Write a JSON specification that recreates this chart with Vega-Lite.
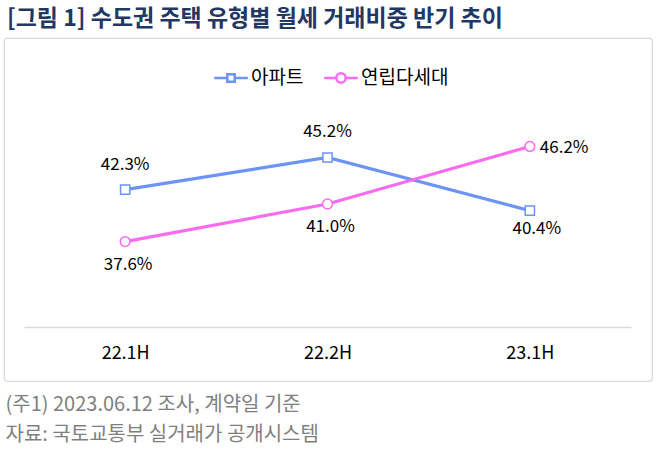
{
  "$schema": "https://vega.github.io/schema/vega-lite/v6.json",
  "width": 648,
  "height": 343,
  "autosize": "none",
  "padding": {"left": 4, "top": 38, "right": 6, "bottom": 85},
  "background": "white",
  "config": {
    "font": "Noto Sans CJK KR",
    "view": {"stroke": "#d9d9d9", "strokeWidth": 1.2, "cornerRadius": 3}
  },
  "title": {
    "text": "[그림 1] 수도권 주택 유형별 월세 거래비중 반기 추이",
    "anchor": "start",
    "frame": "group",
    "fontSize": 23,
    "fontWeight": "bold",
    "color": "#1f3864",
    "baseline": "alphabetic",
    "offset": 12,
    "dx": 3,
    "dy": 23
  },
  "data": {
    "values": [
      {"period": "22.1H", "type": "아파트", "value": 42.3},
      {"period": "22.2H", "type": "아파트", "value": 45.2},
      {"period": "23.1H", "type": "아파트", "value": 40.4},
      {"period": "22.1H", "type": "연립다세대", "value": 37.6},
      {"period": "22.2H", "type": "연립다세대", "value": 41.0},
      {"period": "23.1H", "type": "연립다세대", "value": 46.2}
    ]
  },
  "encoding": {
    "x": {
      "field": "period",
      "type": "ordinal",
      "scale": {"type": "point", "range": [20, 627], "padding": 0.5},
      "axis": {
        "title": ["(주1) 2023.06.12 조사, 계약일 기준", "자료: 국토교통부 실거래가 공개시스템"],
        "titleX": 1,
        "titleY": 83,
        "titleAlign": "left",
        "titleAnchor": null,
        "titleBaseline": "alphabetic",
        "titleFontSize": 20,
        "titleFontWeight": "normal",
        "titleColor": "#7f7f7f",
        "titleLineHeight": 30,
        "offset": -54,
        "domainColor": "#d9d9d9",
        "domainWidth": 1.5,
        "ticks": false,
        "grid": false,
        "labelAngle": 0,
        "labelFontSize": 18,
        "labelColor": "#000000",
        "labelPadding": 17
      }
    },
    "y": {
      "field": "value",
      "type": "quantitative",
      "scale": {"domain": [25, 56], "nice": false, "zero": false},
      "axis": null
    }
  },
  "layer": [
    {
      "mark": {"type": "line", "strokeWidth": 3.2},
      "encoding": {
        "color": {
          "field": "type",
          "type": "nominal",
          "scale": {"domain": ["아파트", "연립다세대"], "range": ["#6c94f4", "#f96cf0"]},
          "legend": {
            "orient": "none",
            "direction": "horizontal",
            "legendX": 215,
            "legendY": 28,
            "title": null,
            "padding": 0,
            "columnPadding": 15,
            "symbolSize": 441,
            "symbolStrokeWidth": 2.5,
            "labelFontSize": 19,
            "labelColor": "#000000",
            "labelOffset": 8,
            "encode": {
              "symbols": {
                "update": {
                  "shape": {"signal": "datum.value === '아파트' ? 'M-1.6,0H-0.35M-0.35,-0.35H0.35V0.35H-0.35ZM0.35,0H1.6' : 'M-1.6,0H-0.45A0.45,0.45,0,1,1,0.45,0A0.45,0.45,0,1,1,-0.45,0M0.45,0H1.6'"},
                  "fill": {"value": "white"},
                  "fillOpacity": {"value": 1}
                }
              }
            }
          }
        }
      }
    },
    {
      "transform": [{"filter": "datum.type === '아파트'"}],
      "mark": {"type": "point", "shape": "square", "filled": false, "fill": "white", "fillOpacity": 1, "strokeWidth": 1.5, "size": 85, "opacity": 1},
      "encoding": {"color": {"field": "type", "type": "nominal"}}
    },
    {
      "transform": [{"filter": "datum.type === '연립다세대'"}],
      "mark": {"type": "point", "shape": "circle", "filled": false, "fill": "white", "fillOpacity": 1, "strokeWidth": 1.5, "size": 95, "opacity": 1},
      "encoding": {"color": {"field": "type", "type": "nominal"}}
    },
    {
      "transform": [
        {"filter": "datum.type === '아파트' && datum.period !== '23.1H'"},
        {"calculate": "format(datum.value, '.1f') + '%'", "as": "label"}
      ],
      "mark": {"type": "text", "fontSize": 17, "color": "#000000", "dy": -25, "align": "center"},
      "encoding": {"text": {"field": "label"}}
    },
    {
      "transform": [
        {"filter": "datum.type === '연립다세대' && datum.period !== '23.1H'"},
        {"calculate": "format(datum.value, '.1f') + '%'", "as": "label"}
      ],
      "mark": {"type": "text", "fontSize": 17, "color": "#000000", "dy": 23, "dx": 3, "align": "center"},
      "encoding": {"text": {"field": "label"}}
    },
    {
      "transform": [
        {"filter": "datum.type === '아파트' && datum.period === '23.1H'"},
        {"calculate": "format(datum.value, '.1f') + '%'", "as": "label"}
      ],
      "mark": {"type": "text", "fontSize": 17, "color": "#000000", "dy": 18, "dx": 7, "align": "center"},
      "encoding": {"text": {"field": "label"}}
    },
    {
      "transform": [
        {"filter": "datum.type === '연립다세대' && datum.period === '23.1H'"},
        {"calculate": "format(datum.value, '.1f') + '%'", "as": "label"}
      ],
      "mark": {"type": "text", "fontSize": 17, "color": "#000000", "dx": 10, "dy": 2, "align": "left"},
      "encoding": {"text": {"field": "label"}}
    },
    {
      "data": {"values": [{"logo": "R114"}]},
      "mark": {"type": "point", "shape": "square", "filled": true, "color": "#e8263c", "size": 500, "opacity": 1, "xOffset": 79},
      "encoding": {"x": {"datum": "23.1H"}, "y": {"datum": 53.9}}
    },
    {
      "data": {"values": [{"logo": "R114"}]},
      "mark": {"type": "text", "fontSize": 12, "fontWeight": "bold", "color": "white", "xOffset": 79, "align": "center", "baseline": "middle"},
      "encoding": {"x": {"datum": "23.1H"}, "y": {"datum": 53.9}, "text": {"field": "logo"}}
    },
    {
      "data": {"values": [{"logo": "부동산"}]},
      "mark": {"type": "text", "fontSize": 12, "fontWeight": "bold", "color": "#666666", "xOffset": 48, "align": "center", "baseline": "middle"},
      "encoding": {"x": {"datum": "23.1H"}, "y": {"datum": 53.8}, "text": {"field": "logo"}}
    },
    {
      "data": {"values": [{"logo": "부동산"}]},
      "mark": {"type": "point", "shape": "M-0.87,-1.06H0.87V1.06H-0.87Z", "filled": true, "color": "#ee3355", "opacity": 0.12, "size": 10000, "xOffset": 68.5},
      "encoding": {"x": {"datum": "22.2H"}, "y": {"datum": 41.35}}
    },
    {
      "data": {"values": [{"logo": "부동산"}]},
      "mark": {"type": "text", "fontSize": 40, "fontWeight": "bold", "color": "#000000", "opacity": 0.07, "xOffset": -43, "align": "center", "baseline": "middle"},
      "encoding": {"x": {"datum": "22.2H"}, "y": {"datum": 41.17}, "text": {"field": "logo"}}
    },
    {
      "data": {"values": [{"logo": "R114"}]},
      "mark": {"type": "text", "fontSize": 40, "fontWeight": "bold", "color": "#ffffff", "opacity": 0.7, "xOffset": 70, "align": "center", "baseline": "middle"},
      "encoding": {"x": {"datum": "22.2H"}, "y": {"datum": 41.17}, "text": {"field": "logo"}}
    }
  ]
}
